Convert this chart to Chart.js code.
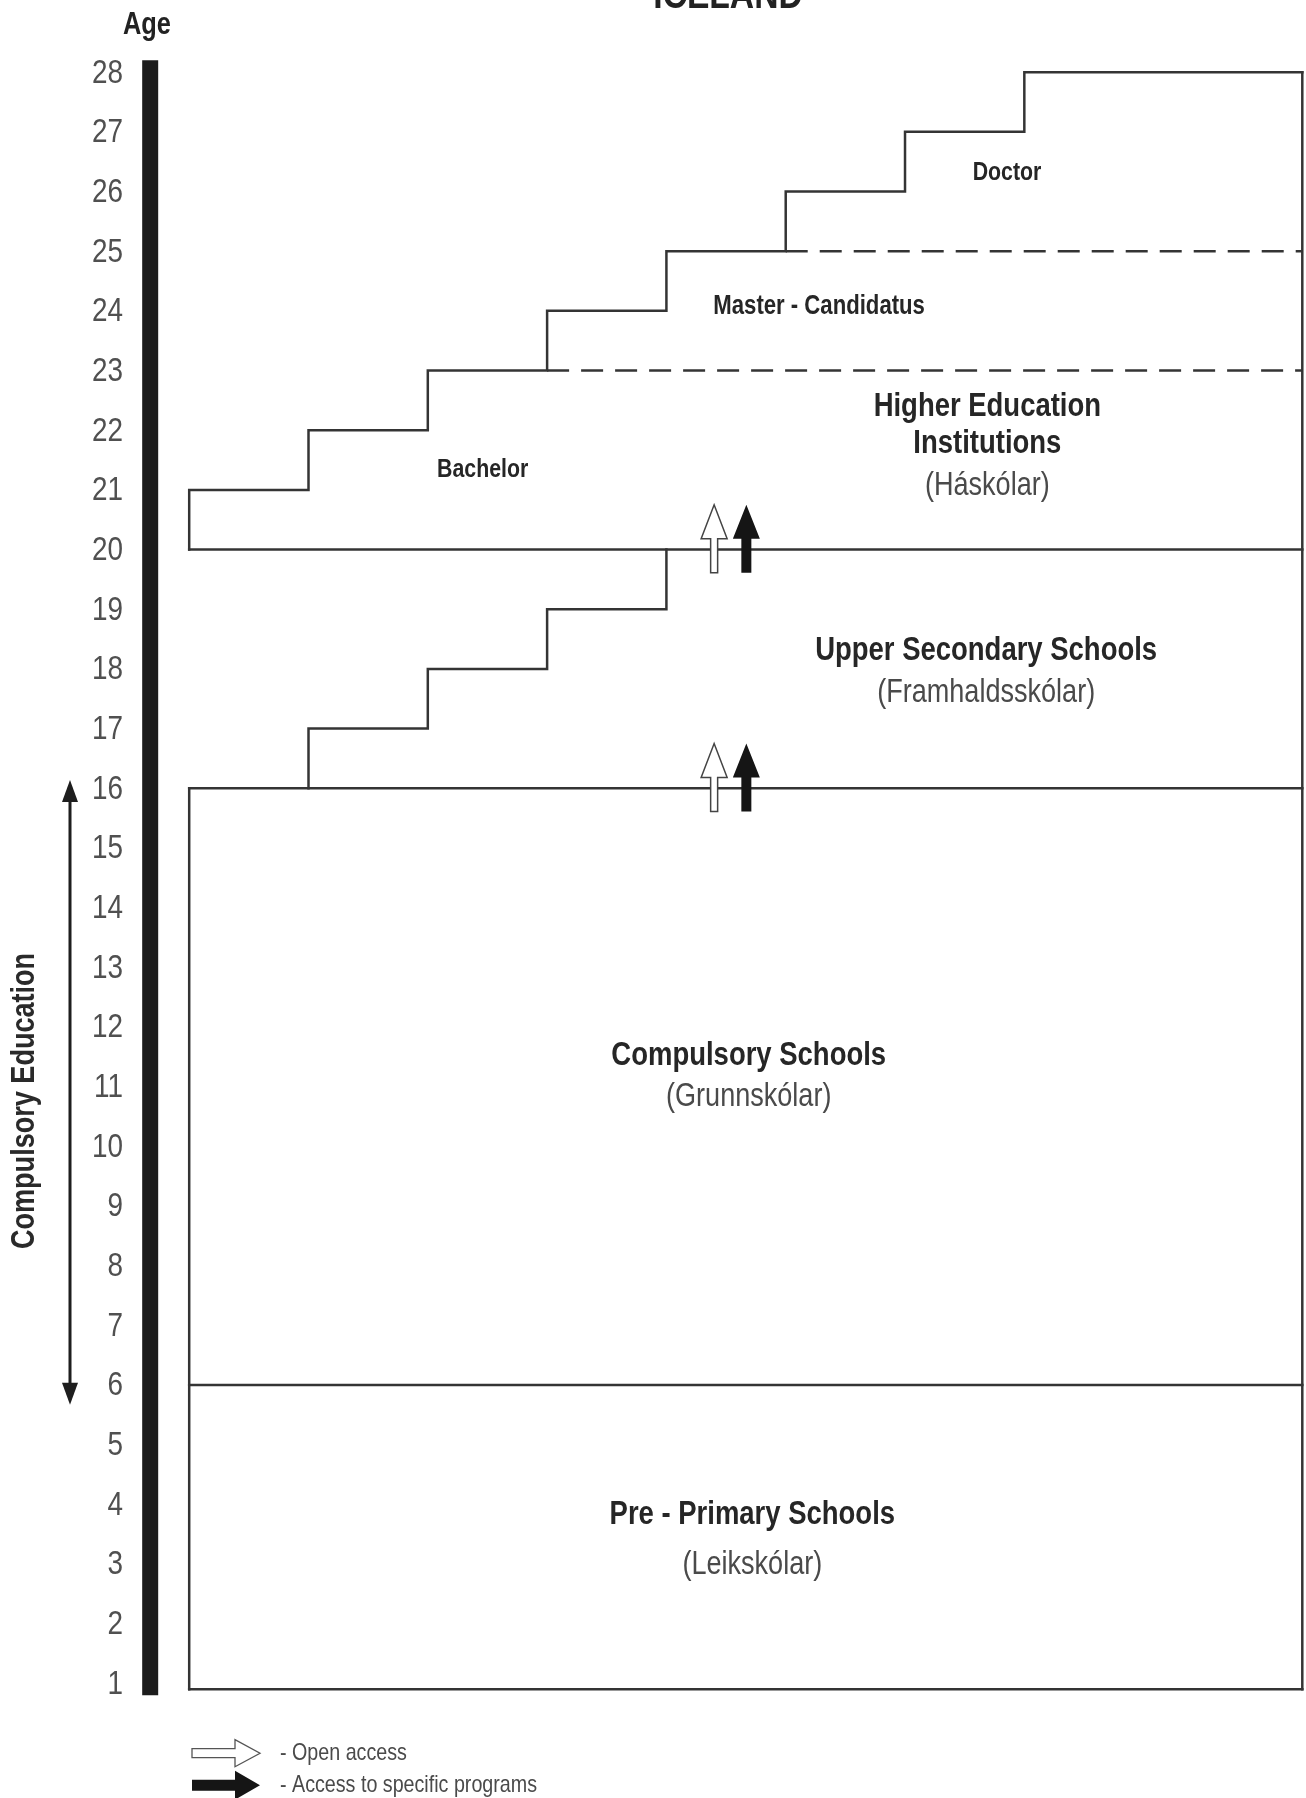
<!DOCTYPE html>
<html>
<head>
<meta charset="utf-8">
<script src="https://cdn.jsdelivr.net/npm/chart.js@4.4.1/dist/chart.umd.min.js"></script>
<style>
  html, body { margin: 0; padding: 0; background: #fff; }
  #wrap { width: 1306px; height: 1798px; position: relative; }
</style>
</head>
<body>
<div id="wrap"><canvas id="chart"></canvas></div>
<script>
// values
const ageTicks = [1, 2, 3, 4, 5, 6, 7, 8, 9, 10, 11, 12, 13, 14, 15, 16, 17, 18, 19, 20, 21, 22, 23, 24, 25, 26, 27, 28]
const levelNames = [['Pre - Primary Schools'], ['Compulsory Schools'], ['Upper Secondary Schools'], ['Higher Education', 'Institutions']]
const levelLocal = ['(Leikskólar)', '(Grunnskólar)', '(Framhaldsskólar)', '(Háskólar)']
const levelStart = [0.9, 6, 16, 20]
const upperSteps = [16, 17, 18, 19, 20]
const higherSteps = [20, 21, 22, 23, 24, 25, 26, 27, 28]
const degreeNames = ['Bachelor', 'Master - Candidatus', 'Doctor']
const degreeStart = [20, 23, 25]
const accessAges = [20, 16]
const compulsoryAges = [6, 16]
const legendNames = ['- Open access', '- Access to specific programs']

// layout (x in stair-step units, y in years)
const boxRight = 9.33
const upperOffset = 1
const ageBarX = -0.327
const ageBarSpan = [0.8, 28.2]
const arrowX = [4.4, 4.67]          // open, specific
const arrowSpan = [-0.39, 0.75]     // below / above the level line
const compulsoryTips = [-0.33, 0.14]
const compulsoryTextAge = 10.76
const levelLabelPos = [[4.72, 3.82, 2.98], [4.69, 11.51, 10.82], [6.68, 18.3, 17.6], [6.69, 22.39, 21.78, 21.07]]
const degreeLabelPos = [[2.46, 21.33], [5.28, 24.07], [6.855, 26.31]]

// no narrow face is installed, so Liberation Sans is squeezed horizontally
const FONT = '"Liberation Sans", Arial, sans-serif'
const SX = 0.82
const lineColor = '#343434'
const textColor = '#262626'
const lightText = '#4a4a4a'

function txt(ctx, s, x, y, font, color, align) {
    ctx.save()
    ctx.translate(x, y)
    ctx.scale(SX, 1)
    ctx.font = font
    ctx.fillStyle = color
    ctx.textAlign = align || 'center'
    ctx.fillText(s, 0, 0)
    ctx.restore()
}

function seg(points, extra) {
    return Object.assign({
        type: 'line', data: points, borderColor: lineColor, borderWidth: 2.5,
        pointRadius: 0, fill: false, tension: 0, borderCapStyle: 'square'
    }, extra || {})
}

// higher education staircase
const higherPts = [{ x: 0, y: higherSteps[0] }]
for (let i = 1; i < higherSteps.length; i++) {
    higherPts.push({ x: i - 1, y: higherSteps[i] })
    higherPts.push({ x: i === higherSteps.length - 1 ? boxRight : i, y: higherSteps[i] })
}
// upper secondary staircase
const upperPts = [{ x: upperOffset, y: upperSteps[0] }]
for (let i = 1; i < upperSteps.length; i++) {
    upperPts.push({ x: upperOffset + i - 1, y: upperSteps[i] })
    if (i < upperSteps.length - 1) upperPts.push({ x: upperOffset + i, y: upperSteps[i] })
}

const datasets = [
    seg([{ x: ageBarX, y: ageBarSpan[0] }, { x: ageBarX, y: ageBarSpan[1] }], { borderWidth: 16, borderColor: '#1c1c1c', borderCapStyle: 'butt' }),
    seg(higherPts),
    seg(upperPts),
    seg([{ x: boxRight, y: higherSteps[higherSteps.length - 1] }, { x: boxRight, y: levelStart[0] }]),
    seg([{ x: 0, y: levelStart[0] }, { x: 0, y: levelStart[2] }])
]
levelStart.forEach(a => datasets.push(seg([{ x: 0, y: a }, { x: boxRight, y: a }])))
degreeStart.slice(1).forEach(a => {
    datasets.push(seg([{ x: higherSteps.indexOf(a), y: a }, { x: boxRight, y: a }], { borderDash: [22, 12], borderCapStyle: 'butt' }))
})

function upArrow(ctx, cx, yBase, yTip, shaftW, headW, headLen) {
    ctx.beginPath()
    ctx.moveTo(cx - shaftW / 2, yBase)
    ctx.lineTo(cx - shaftW / 2, yTip + headLen)
    ctx.lineTo(cx - headW / 2, yTip + headLen)
    ctx.lineTo(cx, yTip)
    ctx.lineTo(cx + headW / 2, yTip + headLen)
    ctx.lineTo(cx + shaftW / 2, yTip + headLen)
    ctx.lineTo(cx + shaftW / 2, yBase)
    ctx.closePath()
}

function rightArrow(ctx, xBase, xTip, cy, shaftH, headH, headLen) {
    ctx.beginPath()
    ctx.moveTo(xBase, cy - shaftH / 2)
    ctx.lineTo(xTip - headLen, cy - shaftH / 2)
    ctx.lineTo(xTip - headLen, cy - headH / 2)
    ctx.lineTo(xTip, cy)
    ctx.lineTo(xTip - headLen, cy + headH / 2)
    ctx.lineTo(xTip - headLen, cy + shaftH / 2)
    ctx.lineTo(xBase, cy + shaftH / 2)
    ctx.closePath()
}

const decorations = {
    id: 'decorations',
    afterDatasetsDraw(chart) {
        const { ctx, scales: { x, y } } = chart
        ctx.save()
        ctx.lineJoin = 'miter'
        accessAges.forEach(a => {
            const yb = y.getPixelForValue(a + arrowSpan[0]), yt = y.getPixelForValue(a + arrowSpan[1])
            upArrow(ctx, x.getPixelForValue(arrowX[0]), yb, yt, 7, 26, 34)
            ctx.fillStyle = '#fff'; ctx.fill()
            ctx.strokeStyle = '#444'; ctx.lineWidth = 1.5; ctx.stroke()
            upArrow(ctx, x.getPixelForValue(arrowX[1]), yb, yt, 10, 27, 34)
            ctx.fillStyle = '#151515'; ctx.fill()
        })
        ctx.restore()
    },
    afterDraw(chart) {
        const { ctx, chartArea, scales: { x, y } } = chart
        ctx.save()
        ctx.textBaseline = 'alphabetic'
        txt(ctx, 'ICELAND', 728, 8, 'bold 41px ' + FONT, '#222')
        txt(ctx, 'Age', 147, 34, 'bold 31px ' + FONT, '#222')
        ctx.textBaseline = 'middle'

        // age ticks
        y.ticks.forEach((t, i) => {
            txt(ctx, String(t.value), chartArea.left - 5, y.getPixelForTick(i) + 1, '34px ' + FONT, '#505050', 'right')
        })

        // levels
        levelNames.forEach((lines, i) => {
            const p = levelLabelPos[i]
            const cx = x.getPixelForValue(p[0])
            lines.forEach((t, j) => txt(ctx, t, cx, y.getPixelForValue(p[1 + j]), 'bold 33.5px ' + FONT, textColor))
            txt(ctx, levelLocal[i], cx, y.getPixelForValue(p[1 + lines.length]), '33px ' + FONT, lightText)
        })

        // degrees
        degreeNames.forEach((t, i) => {
            const size = i === 1 ? 27 : 26
            txt(ctx, t, x.getPixelForValue(degreeLabelPos[i][0]), y.getPixelForValue(degreeLabelPos[i][1]), 'bold ' + size + 'px ' + FONT, textColor)
        })

        // compulsory education span
        const ax = 70
        const yTop = y.getPixelForValue(compulsoryAges[1] + compulsoryTips[1])
        const yBot = y.getPixelForValue(compulsoryAges[0] + compulsoryTips[0])
        ctx.strokeStyle = '#1e1e1e'; ctx.lineWidth = 3
        ctx.beginPath(); ctx.moveTo(ax, yTop + 18); ctx.lineTo(ax, yBot - 18); ctx.stroke()
        ctx.fillStyle = '#1e1e1e'
        ctx.beginPath(); ctx.moveTo(ax, yTop); ctx.lineTo(ax - 8, yTop + 22); ctx.lineTo(ax + 8, yTop + 22); ctx.closePath(); ctx.fill()
        ctx.beginPath(); ctx.moveTo(ax, yBot); ctx.lineTo(ax - 8, yBot - 22); ctx.lineTo(ax + 8, yBot - 22); ctx.closePath(); ctx.fill()

        ctx.save()
        ctx.translate(25, y.getPixelForValue(compulsoryTextAge))
        ctx.rotate(-Math.PI / 2)
        txt(ctx, 'Compulsory Education', 0, 0, 'bold 33px ' + FONT, '#2a2a2a')
        ctx.restore()

        // legend
        const ly = [chartArea.bottom + 40, chartArea.bottom + 72]
        ctx.lineJoin = 'miter'
        rightArrow(ctx, 192, 260, ly[0], 9, 27, 25)
        ctx.fillStyle = '#fff'; ctx.fill()
        ctx.strokeStyle = '#555'; ctx.lineWidth = 1.3; ctx.stroke()
        rightArrow(ctx, 192, 260, ly[1], 11, 29, 25)
        ctx.fillStyle = '#151515'; ctx.fill()
        legendNames.forEach((t, i) => txt(ctx, t, 280, ly[i], '24px ' + FONT, lightText, 'left'))
        ctx.restore()
    }
}

new Chart(document.getElementById('chart'), {
    type: 'line',
    data: { datasets: datasets },
    options: {
        responsive: true,
        maintainAspectRatio: false,
        animation: false,
        devicePixelRatio: 1,
        events: [],
        layout: { padding: { top: 48.3, bottom: 84.8, left: 0, right: 0 } },
        plugins: { legend: { display: false }, tooltip: { enabled: false } },
        scales: {
            x: { type: 'linear', min: -0.513, max: 9.361, display: false },
            y: {
                type: 'linear', min: 0.5, max: 28.4,
                afterFit: s => { s.width = 128 },
                afterBuildTicks: s => { s.ticks = ageTicks.map(v => ({ value: v })) },
                grid: { display: false, drawTicks: false },
                border: { display: false },
                // labels are drawn condensed by the plugin at the axis' own tick positions
                ticks: { display: false }
            }
        }
    },
    plugins: [decorations]
})
</script>
</body>
</html>
